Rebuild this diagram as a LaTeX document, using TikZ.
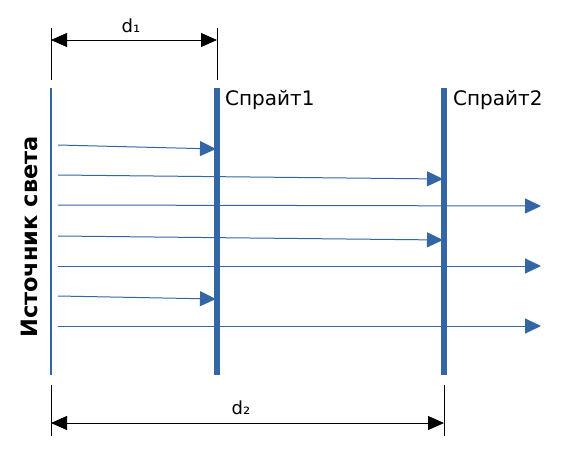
\documentclass[tikz,border=0pt]{standalone}
\usepackage{fontspec}
\setmainfont{DejaVu Sans}
\usetikzlibrary{arrows.meta}
\definecolor{lblue}{RGB}{52,101,164}
\tikzset{
  ray/.style={lblue, line width=1pt, -{Triangle[length=16pt,width=15pt]}},
  dim/.style={black, line width=0.8pt, {Triangle[length=16pt,width=14pt]}-{Triangle[length=16pt,width=14pt]}},
  ext/.style={black, line width=0.8pt},
  lbl/.style={inner sep=0pt, font=\fontsize{20}{22}\selectfont},
  dlbl/.style={inner sep=0pt, font=\fontsize{18}{20}\selectfont},
}
\begin{document}
\begin{tikzpicture}[x=1pt,y=-1pt]
\useasboundingbox (0,0) rectangle (578,464);
% walls
\draw[lblue, line width=2pt] (51,88) coordinate (s0) -- (51,375) coordinate (s1);
\draw[lblue, line width=6pt] (217,88) coordinate (a0) -- (217,375) coordinate (a1);
\draw[lblue, line width=6pt] (444,88) coordinate (b0) -- (444,375) coordinate (b1);
\node[lbl, anchor=west] (sp1) at (225,100) {Спрайт1};
\node[lbl, anchor=west] (sp2) at (453,100) {Спрайт2};
\node[inner sep=0pt, rotate=90, font=\fontsize{22.5}{24}\selectfont\bfseries] (src) at (29,237) {Источник света};
% rays
\coordinate (r1s) at (58,145); \coordinate (r1e) at (216,149);
\coordinate (r2s) at (58,175); \coordinate (r2e) at (443,179);
\coordinate (r3s) at (58,205); \coordinate (r3e) at (541,206);
\coordinate (r4s) at (58,236); \coordinate (r4e) at (443,240);
\coordinate (r5s) at (58,266); \coordinate (r5e) at (541,266);
\coordinate (r6s) at (58,296); \coordinate (r6e) at (216,299);
\coordinate (r7s) at (58,326); \coordinate (r7e) at (541,326);
\foreach \i in {1,...,7} \draw[ray] (r\i s) -- (r\i e);
% dimensions
\coordinate (d1a) at (51,28); \coordinate (d1b) at (51,80);
\coordinate (d1c) at (217,28); \coordinate (d1d) at (217,80);
\draw[ext] (d1a) -- (d1b);
\draw[ext] (d1c) -- (d1d);
\draw[dim] (51,40) coordinate (d1l) -- (217,40) coordinate (d1r);
\node[dlbl] (d1) at (131,26) {d₁};
\coordinate (d2a) at (51,385); \coordinate (d2b) at (51,436);
\coordinate (d2c) at (444,385); \coordinate (d2d) at (444,436);
\draw[ext] (d2a) -- (d2b);
\draw[ext] (d2c) -- (d2d);
\draw[dim] (51,423) coordinate (d2l) -- (444,423) coordinate (d2r);
\node[dlbl] (d2) at (241,408) {d₂};
\end{tikzpicture}
\end{document}
